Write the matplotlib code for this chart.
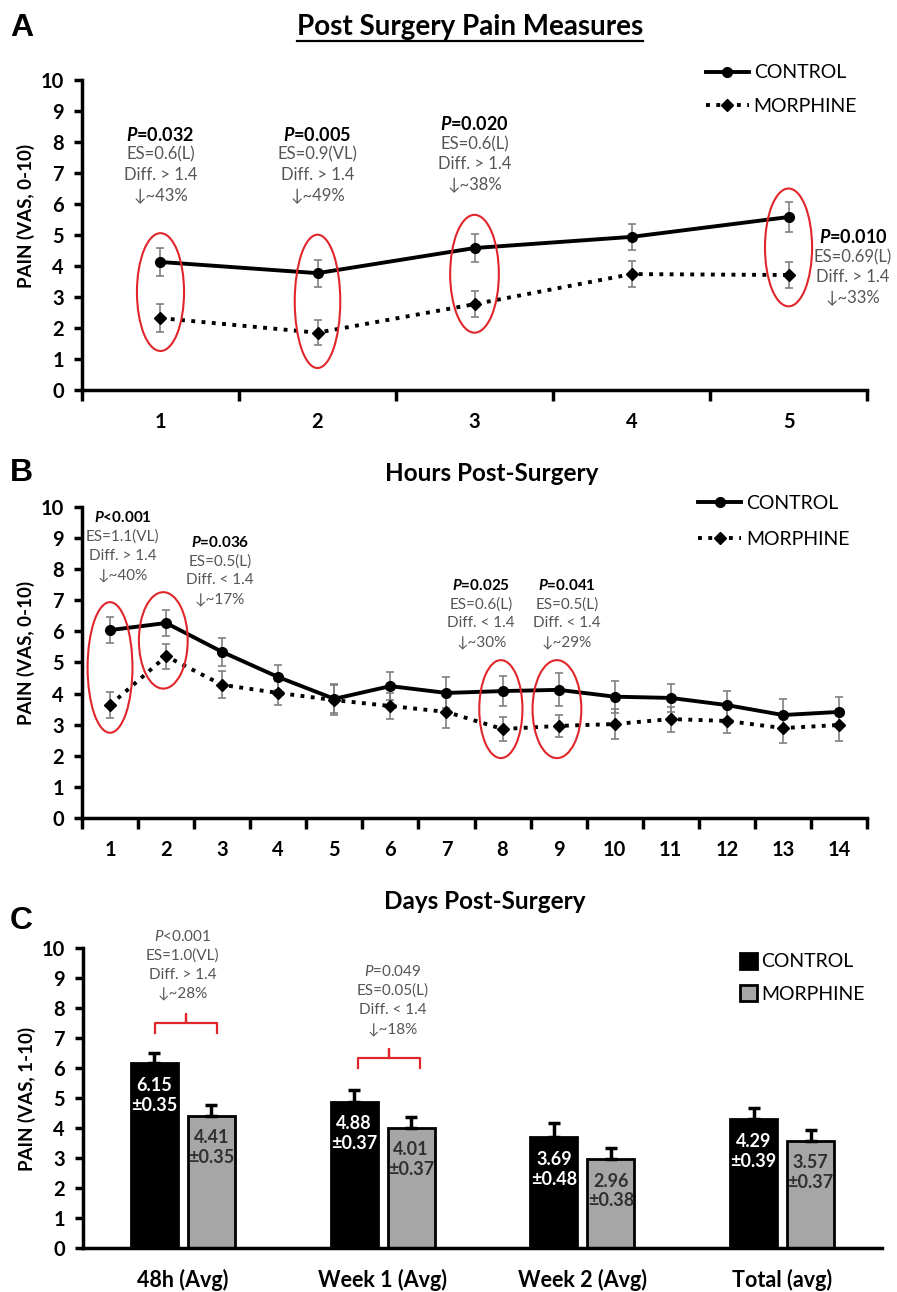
import numpy as np
import matplotlib
matplotlib.use('Agg')
import matplotlib.pyplot as plt
from matplotlib.patches import Ellipse
from matplotlib.lines import Line2D

plt.rcParams['font.family'] = ['Lato', 'DejaVu Sans']
plt.rcParams['mathtext.fontset'] = 'custom'
plt.rcParams['mathtext.it'] = 'Lato:italic:bold'
plt.rcParams['mathtext.sf'] = 'Lato:italic'

# --- data -----------------------------------------------------------------
hours = ['1', '2', '3', '4', '5']
hrs_control = [4.13, 3.77, 4.58, 4.94, 5.58]
hrs_control_err = [0.45, 0.44, 0.45, 0.43, 0.47]
hrs_morphine = [2.32, 1.85, 2.77, 3.74, 3.71]
hrs_morphine_err = [0.45, 0.40, 0.43, 0.41, 0.43]

days = ['1', '2', '3', '4', '5', '6', '7', '8', '9', '10', '11', '12', '13', '14']
day_control = [6.04, 6.27, 5.34, 4.53, 3.83, 4.24, 4.02, 4.08, 4.12, 3.90, 3.86, 3.63, 3.31, 3.41]
day_control_err = [0.42, 0.41, 0.45, 0.40, 0.47, 0.44, 0.50, 0.48, 0.53, 0.51, 0.46, 0.46, 0.50, 0.49]
day_morphine = [3.63, 5.20, 4.28, 4.02, 3.79, 3.60, 3.41, 2.86, 2.96, 3.02, 3.18, 3.12, 2.89, 2.99]
day_morphine_err = [0.43, 0.41, 0.43, 0.38, 0.48, 0.43, 0.52, 0.39, 0.36, 0.47, 0.40, 0.40, 0.48, 0.52]

periods = ['48h (Avg)', 'Week 1 (Avg)', 'Week 2 (Avg)', 'Total (avg)']
avg_control = [6.15, 4.88, 3.69, 4.29]
avg_control_se = [0.35, 0.37, 0.48, 0.39]
avg_morphine = [4.41, 4.01, 2.96, 3.57]
avg_morphine_se = [0.35, 0.37, 0.38, 0.37]

# significance notes: (x position, y of first line, p text, ES, diff, reduction)
notes_a = [(0, 8.23, 'P', '=0.032', 'ES=0.6(L)', 'Diff. > 1.4', '\u2193~43%'),
           (1, 8.23, 'P', '=0.005', 'ES=0.9(VL)', 'Diff. > 1.4', '\u2193~49%'),
           (2, 8.58, 'P', '=0.020', 'ES=0.6(L)', 'Diff. > 1.4', '\u2193~38%'),
           (4.41, 4.94, 'P', '=0.010', 'ES=0.69(L)', 'Diff. > 1.4', '\u2193~33%')]
notes_b = [(0.23, 9.65, 'P', '<0.001', 'ES=1.1(VL)', 'Diff. > 1.4', '\u2193~40%'),
           (1.96, 8.87, 'P', '=0.036', 'ES=0.5(L)', 'Diff. < 1.4', '\u2193~17%'),
           (6.62, 7.49, 'P', '=0.025', 'ES=0.6(L)', 'Diff. < 1.4', '\u2193~30%'),
           (8.15, 7.49, 'P', '=0.041', 'ES=0.5(L)', 'Diff. < 1.4', '\u2193~29%')]
notes_c = [(0.0, 10.37, 'P', '<0.001', 'ES=1.0(VL)', 'Diff. > 1.4', '\u2193~28%'),
           (1.05, 9.2, 'P', '=0.049', 'ES=0.05(L)', 'Diff. < 1.4', '\u2193~18%')]

# red ellipses: (x centre, y centre, width, height)
rings_a = [(0, 3.16, 0.30, 3.8), (1, 2.86, 0.29, 4.3), (2, 3.75, 0.31, 3.8), (4, 4.6, 0.30, 3.8)]
rings_b = [(0, 4.84, 0.80, 4.2), (0.95, 5.71, 0.87, 3.1), (6.97, 3.5, 0.77, 3.15), (7.97, 3.5, 0.87, 3.15)]

# red brackets in panel C: (x0, x1, y)
brackets_c = [(-0.14, 0.17, 7.5), (0.876, 1.186, 6.33)]

GRAY_TXT = '#555555'
RED = '#e0262b'


def style_axes(ax):
    for side in ['top', 'right']:
        ax.spines[side].set_visible(False)
    for side in ['left', 'bottom']:
        ax.spines[side].set_linewidth(2.5)
    ax.set_ylim(0, 10)
    ax.set_yticks(range(11))
    ax.tick_params(axis='y', length=6, width=2.5, pad=7, labelsize=14.5)
    for lab in ax.get_yticklabels():
        lab.set_fontweight('bold')


def add_note(ax, note, bold_first, size1, size2, step):
    x, y, p, rest, es, diff, red = note
    if bold_first:
        first = r'$\mathit{' + p + '}$' + rest
        ax.annotate(first, (x, y), ha='center', va='center', fontsize=size1,
                    fontweight='bold', color='black', annotation_clip=False)
    else:
        first = r'$\mathsf{' + p + '}$' + rest
        ax.annotate(first, (x, y), ha='center', va='center', fontsize=size1,
                    color=GRAY_TXT, annotation_clip=False)
    for i, s in enumerate([es, diff, red]):
        ax.annotate(s, (x, y), xytext=(0, -(i + 1) * step), textcoords='offset points',
                    ha='center', va='center', fontsize=size2, color=GRAY_TXT,
                    annotation_clip=False)


def line_panel(ax, labels, control, control_err, morphine, morphine_err):
    x = np.arange(len(labels))
    ax.errorbar(x, control, yerr=control_err, fmt='none', ecolor='#808080',
                elinewidth=1.2, capsize=3, capthick=1.2, zorder=2)
    ax.errorbar(x, morphine, yerr=morphine_err, fmt='none', ecolor='#808080',
                elinewidth=1.2, capsize=3, capthick=1.2, zorder=2)
    ax.plot(x, control, '-', color='black', lw=2.8, marker='o', ms=7,
            zorder=3, label='CONTROL')
    ax.plot(x, morphine, ':', color='black', lw=2.8, marker='D', ms=6,
            zorder=3, label='MORPHINE')
    style_axes(ax)
    ax.set_xlim(-0.5, len(labels) - 0.5)
    ax.set_xticks(x)
    ax.set_xticklabels(labels, fontweight='bold', fontsize=14.5)
    ax.set_xticks(np.arange(len(labels) + 1) - 0.5, minor=True)
    ax.tick_params(axis='x', which='major', length=0, pad=16)
    ax.tick_params(axis='x', which='minor', length=8, width=2.5)


fig = plt.figure(figsize=(8.97, 12.92), dpi=100)

# --- panel A ----------------------------------------------------------------
ax1 = fig.add_axes([0.0914, 0.6981, 0.8752, 0.2400])
line_panel(ax1, hours, hrs_control, hrs_control_err, hrs_morphine, hrs_morphine_err)
ax1.set_ylabel('PAIN (VAS, 0-10)', fontsize=13.5, fontweight='bold')
ax1.yaxis.set_label_coords(-0.06, 0.56)
ax1.set_xlabel('Hours Post-Surgery', fontsize=17.5, fontweight='bold')
ax1.xaxis.set_label_coords(0.522, -0.232)
for r in rings_a:
    ax1.add_patch(Ellipse((r[0], r[1]), r[2], r[3], fill=False, ec=RED, lw=1.5, zorder=4))
for n in notes_a:
    add_note(ax1, n, True, 13, 12, 14.4)
ax1.legend(loc='upper left', bbox_to_anchor=(0.785, 1.075), frameon=False,
           fontsize=14, handlelength=2.2, handletextpad=0.25, labelspacing=0.85,
           borderaxespad=0)

# --- panel B ----------------------------------------------------------------
ax2 = fig.add_axes([0.0914, 0.3669, 0.8752, 0.2407])
line_panel(ax2, days, day_control, day_control_err, day_morphine, day_morphine_err)
ax2.set_ylabel('PAIN (VAS, 0-10)', fontsize=13.5, fontweight='bold')
ax2.yaxis.set_label_coords(-0.06, 0.53)
ax2.set_xlabel('Days Post-Surgery', fontsize=17.5, fontweight='bold')
ax2.xaxis.set_label_coords(0.513, -0.232)
for r in rings_b:
    ax2.add_patch(Ellipse((r[0], r[1]), r[2], r[3], fill=False, ec=RED, lw=1.5, zorder=4))
for n in notes_b:
    add_note(ax2, n, True, 11, 11, 13.7)
ax2.legend(loc='upper left', bbox_to_anchor=(0.775, 1.065), frameon=False,
           fontsize=14, handlelength=2.2, handletextpad=0.25, labelspacing=1.0,
           borderaxespad=0)

# --- panel C ----------------------------------------------------------------
ax3 = fig.add_axes([0.0925, 0.0341, 0.8908, 0.2322])
xc = np.arange(len(periods))
w, off = 0.235, 0.1425
ax3.bar(xc - off, avg_control, w, color='black', edgecolor='black', lw=2,
        yerr=[np.zeros(len(xc)), avg_control_se],
        error_kw=dict(ecolor='black', elinewidth=2.5, capsize=4, capthick=2.5),
        label='CONTROL', zorder=2)
ax3.bar(xc + off, avg_morphine, w, color='#a6a6a6', edgecolor='black', lw=2,
        yerr=[np.zeros(len(xc)), avg_morphine_se],
        error_kw=dict(ecolor='black', elinewidth=2.5, capsize=4, capthick=2.5),
        label='MORPHINE', zorder=2)
for i in range(len(xc)):
    ax3.text(xc[i] - off, avg_control[i] - 0.45,
             f'{avg_control[i]:.2f}\n\u00b1{avg_control_se[i]:.2f}',
             ha='center', va='top', color='white', fontsize=13,
             fontweight='bold', linespacing=1.2, zorder=3)
    ax3.text(xc[i] + off, avg_morphine[i] - 0.45,
             f'{avg_morphine[i]:.2f}\n\u00b1{avg_morphine_se[i]:.2f}',
             ha='center', va='top', color='#303030', fontsize=13,
             fontweight='bold', linespacing=1.2, zorder=3)
style_axes(ax3)
ax3.set_xlim(-0.5, len(periods) - 0.5)
ax3.set_xticks(xc)
ax3.set_xticklabels(periods, fontweight='bold', fontsize=15.5)
ax3.tick_params(axis='x', length=0, pad=15)
ax3.set_ylabel('PAIN (VAS, 1-10)', fontsize=13.5, fontweight='bold')
ax3.yaxis.set_label_coords(-0.059, 0.497)
for n in notes_c:
    add_note(ax3, n, False, 11, 11, 13.7)
for x0, x1, y in brackets_c:
    xm = (x0 + x1) / 2
    ax3.plot([x0, x0, xm, xm, xm, x1, x1],
             [y - 0.33, y, y, y + 0.3, y, y, y - 0.33],
             color=RED, lw=1.6, solid_joinstyle='round', zorder=4)
ax3.legend(loc='upper left', bbox_to_anchor=(0.812, 1.01), frameon=False,
           fontsize=14, handlelength=0.9, handleheight=0.9, handletextpad=0.2,
           labelspacing=0.75, borderaxespad=0)

# --- figure texts -------------------------------------------------------------
for letter, y in [('A', 0.978), ('B', 0.634), ('C', 0.287)]:
    fig.text(0.024, y, letter, fontsize=23, fontweight='bold', ha='center',
             va='center', family=['Liberation Sans', 'DejaVu Sans'])
title = fig.text(0.524, 0.979, 'Post Surgery Pain Measures', fontsize=20,
                 fontweight='bold', ha='center', va='center')

fig.canvas.draw()
bb = title.get_window_extent().transformed(fig.transFigure.inverted())
fig.add_artist(Line2D([bb.x0, bb.x1], [bb.y0 - 0.001, bb.y0 - 0.001],
                      color='black', lw=1.6, transform=fig.transFigure))

fig.savefig('out.png', dpi=100)
